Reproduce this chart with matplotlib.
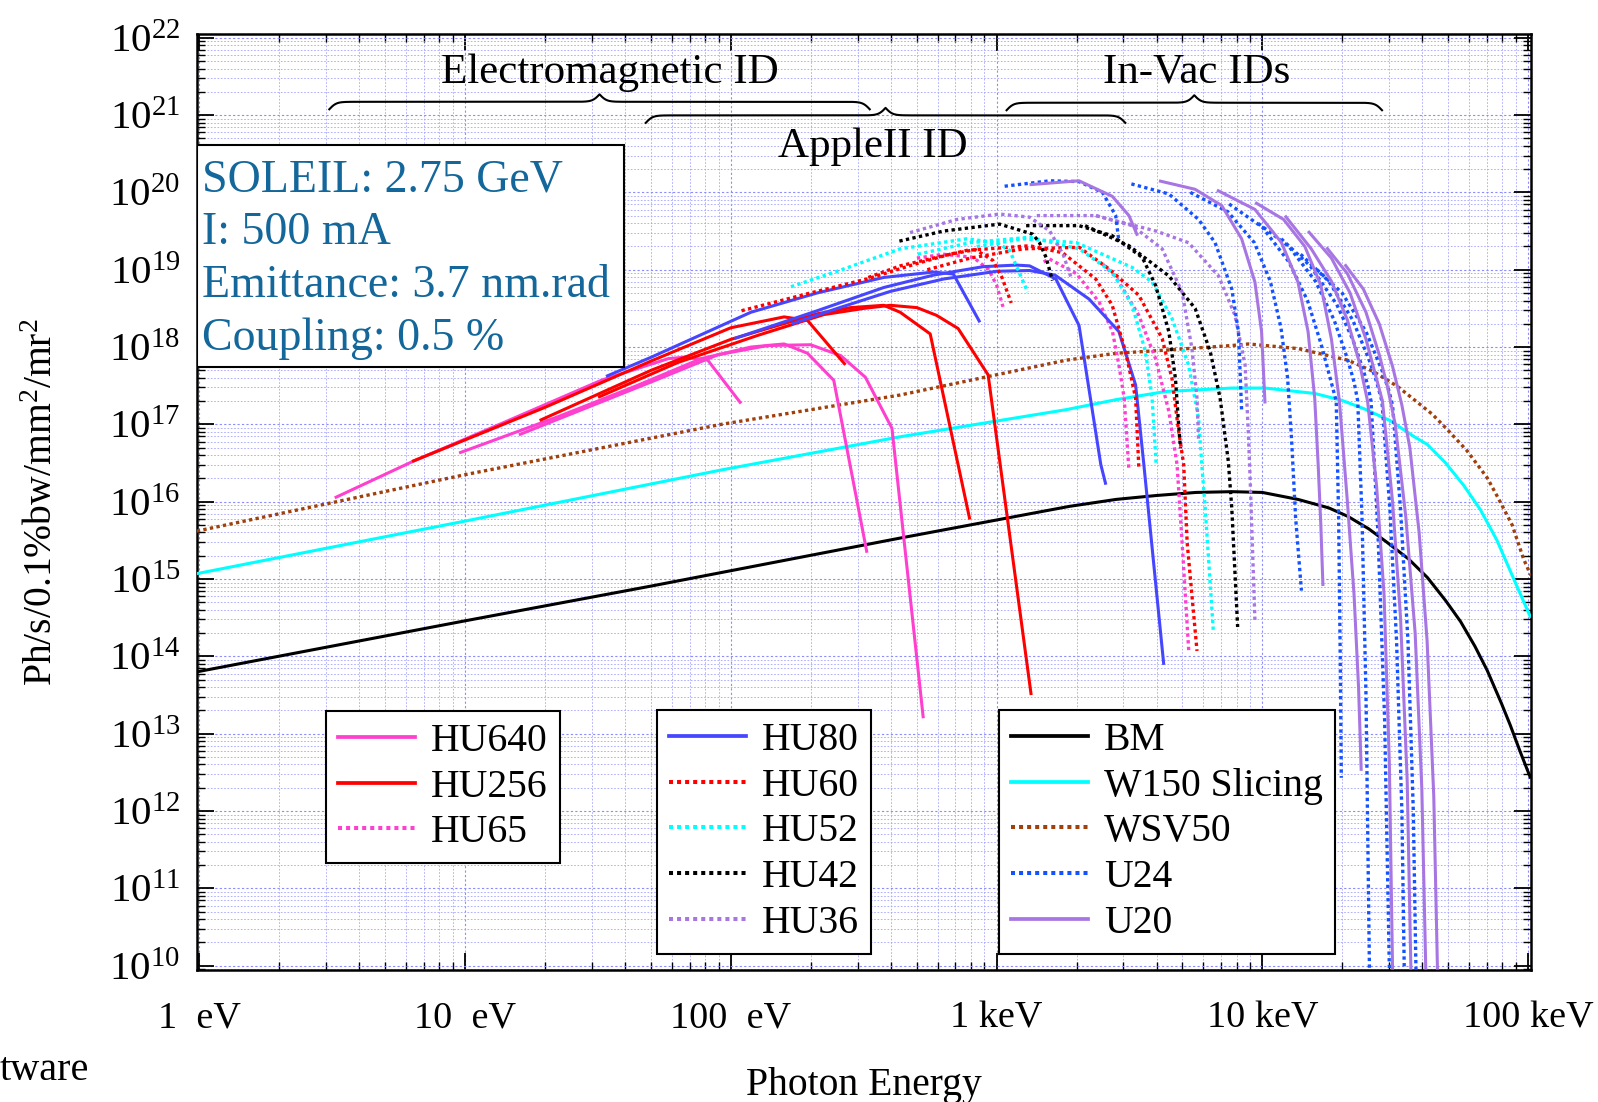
import numpy as np
import matplotlib.pyplot as plt
from matplotlib.lines import Line2D
from matplotlib.patches import Rectangle
from matplotlib.ticker import LogLocator, NullFormatter

plt.rcParams['font.family'] = ['Liberation Serif', 'DejaVu Serif']
plt.rcParams['mathtext.fontset'] = 'custom'
plt.rcParams['mathtext.rm'] = 'Liberation Serif'
plt.rcParams['mathtext.it'] = 'Liberation Serif:italic'
plt.rcParams['mathtext.bf'] = 'Liberation Serif:bold'

# values: log10(photon energy / eV), log10(brightness)
# one list per harmonic
hu640_E = [[0.509, 0.802, 1.139, 1.514, 1.764, 1.826, 1.913, 2.038],
           [0.977, 1.35, 1.638, 1.888, 2.075, 2.2, 2.288, 2.387, 2.512],
           [1.202, 1.701, 1.951, 2.138, 2.30, 2.413, 2.506, 2.606, 2.724]]
hu640_B = [[16.05, 16.52, 17.015, 17.573, 17.85, 17.87, 17.83, 17.27],
           [16.63, 17.1, 17.49, 17.85, 18.0, 18.04, 17.92, 17.57, 15.34],
           [16.865, 17.55, 17.9, 18.02, 18.03, 17.89, 17.61, 16.95, 13.2]]

hu256_E = [[0.80, 1.3, 1.7, 2.0, 2.2, 2.288, 2.431],
           [1.28, 1.7, 2.0, 2.325, 2.45, 2.575, 2.637, 2.75, 2.899],
           [1.50, 1.8, 2.1, 2.35, 2.5, 2.6, 2.7, 2.774, 2.855, 2.968, 3.13]]
hu256_B = [[16.52, 17.22, 17.82, 18.25, 18.39, 18.345, 17.77],
           [17.05, 17.7, 18.1, 18.43, 18.51, 18.54, 18.45, 18.17, 15.77],
           [17.35, 17.8, 18.15, 18.42, 18.5, 18.54, 18.51, 18.41, 18.24, 17.64, 13.5]]

hu65_E = [[2.70, 2.8, 2.912, 2.97, 3.0, 3.024],
          [3.177, 3.198, 3.3, 3.386, 3.436, 3.46, 3.48, 3.498],
          [3.40, 3.45, 3.535, 3.598, 3.648, 3.679, 3.698, 3.723]]
hu65_B = [[19.15, 19.2, 19.16, 19.0, 18.8, 18.52],
          [19.1, 19.14, 18.95, 18.58, 18.2, 17.77, 17.34, 16.4],
          [19.07, 18.9, 18.41, 17.85, 17.17, 16.48, 15.47, 14.07]]

hu80_E = [[1.53, 1.701, 2.075, 2.325, 2.575, 2.762, 2.837, 2.937],
          [2.013, 2.325, 2.575, 2.762, 2.95, 3.074, 3.124, 3.223, 3.31, 3.392, 3.411],
          [2.229, 2.4, 2.6, 2.8, 3.0, 3.124, 3.22, 3.348, 3.46, 3.523, 3.554, 3.629]]
hu80_B = [[17.62, 17.87, 18.45, 18.7, 18.9, 18.97, 18.945, 18.32],
          [18.11, 18.47, 18.77, 18.93, 19.04, 19.06, 19.05, 18.88, 18.28, 16.48, 16.22],
          [18.3, 18.5, 18.72, 18.88, 18.98, 18.99, 18.93, 18.62, 18.2, 17.51, 16.48, 13.89]]

hu60_E = [[2.04, 2.3, 2.512, 2.7, 2.824, 2.92, 2.986, 3.02, 3.055],
          [2.517, 2.637, 2.887, 3.124, 3.248, 3.373, 3.435, 3.485, 3.523, 3.535],
          [2.739, 2.9, 3.1, 3.311, 3.423, 3.535, 3.623, 3.66, 3.685, 3.704, 3.717, 3.754]]
hu60_B = [[18.47, 18.70, 18.88, 19.08, 19.2, 19.26, 19.12, 18.9, 18.57],
          [18.9, 19.05, 19.25, 19.31, 19.22, 18.88, 18.54, 17.94, 17.34, 16.45],
          [19.0, 19.15, 19.27, 19.29, 19.01, 18.67, 18.11, 17.59, 16.91, 16.48, 15.47, 14.07]]

hu52_E = [[2.226, 2.4, 2.637, 2.887, 3.0, 3.049, 3.117],
          [2.703, 2.9, 3.124, 3.31, 3.435, 3.51, 3.56, 3.585, 3.6],
          [2.925, 3.1, 3.3, 3.51, 3.585, 3.66, 3.722, 3.76, 3.772, 3.785, 3.816]]
hu52_B = [[18.78, 18.98, 19.27, 19.4, 19.35, 19.25, 18.71],
          [19.2, 19.35, 19.42, 19.27, 18.97, 18.54, 17.94, 17.34, 16.5],
          [19.3, 19.4, 19.35, 19.03, 18.84, 18.37, 17.77, 17.08, 16.48, 15.91, 14.3]]

hu42_E = [[2.634, 2.8, 3.011, 3.136, 3.161, 3.186, 3.21],
          [3.111, 3.31, 3.435, 3.548, 3.598, 3.648, 3.673, 3.685, 3.692],
          [3.333, 3.498, 3.648, 3.747, 3.804, 3.841, 3.872, 3.885, 3.907]]
hu42_B = [[19.37, 19.5, 19.59, 19.46, 19.35, 19.16, 18.86],
          [19.57, 19.57, 19.44, 19.16, 18.8, 18.2, 17.59, 16.99, 16.69],
          [19.57, 19.31, 18.92, 18.5, 17.94, 17.34, 16.52, 15.91, 14.38]]

hu36_E = [[2.674, 2.85, 3.011, 3.124, 3.2, 3.25, 3.28],
          [3.151, 3.373, 3.51, 3.623, 3.698, 3.735, 3.754, 3.76],
          [3.373, 3.6, 3.722, 3.835, 3.897, 3.935, 3.947, 3.954, 3.972]]
hu36_B = [[19.48, 19.65, 19.72, 19.68, 19.5, 19.2, 18.9],
          [19.70, 19.70, 19.57, 19.27, 18.71, 17.98, 17.34, 16.78],
          [19.70, 19.5, 19.35, 18.92, 18.41, 17.77, 16.91, 16.3, 14.47]]

u24_E = [[3.03, 3.2, 3.31, 3.398, 3.448, 3.46],
         [3.507, 3.648, 3.76, 3.822, 3.885, 3.91, 3.922],
         [3.729, 3.87, 3.97, 4.03, 4.07, 4.095, 4.11, 4.125, 4.147],
         [3.875, 4.0, 4.1, 4.17, 4.22, 4.255, 4.278, 4.287, 4.293, 4.297],
         [3.984, 4.1, 4.2, 4.27, 4.32, 4.345, 4.359, 4.375, 4.39, 4.403],
         [4.071, 4.18, 4.28, 4.34, 4.38, 4.397, 4.409, 4.435, 4.46, 4.478],
         [4.144, 4.25, 4.34, 4.4, 4.43, 4.45, 4.48, 4.505, 4.525, 4.534],
         [4.206, 4.3, 4.39, 4.45, 4.475, 4.49, 4.52, 4.548, 4.568, 4.578]]
u24_B = [[20.08, 20.15, 20.14, 20.0, 19.70, 19.37],
         [20.11, 19.98, 19.65, 19.35, 18.75, 18.2, 17.17],
         [20.0, 19.75, 19.35, 18.85, 18.25, 17.6, 16.8, 15.8, 14.85],
         [19.85, 19.55, 19.1, 18.6, 18.05, 17.6, 17.3, 15.8, 14.0, 12.43],
         [19.6, 19.3, 18.85, 18.35, 17.85, 17.55, 17.3, 15.8, 13.5, 9.95],
         [19.4, 19.05, 18.55, 18.1, 17.7, 17.5, 17.3, 15.6, 13.2, 9.95],
         [19.2, 18.85, 18.35, 17.85, 17.55, 17.3, 15.9, 14.2, 12.0, 9.95],
         [19.0, 18.7, 18.2, 17.7, 17.45, 17.25, 15.9, 14.2, 12.0, 9.95]]

u20_E = [[3.124, 3.31, 3.435, 3.498, 3.53],
         [3.611, 3.747, 3.847, 3.922, 3.972, 3.997, 4.01],
         [3.829, 3.972, 4.072, 4.134, 4.172, 4.197, 4.21, 4.22, 4.228],
         [3.973, 4.08, 4.16, 4.22, 4.26, 4.29, 4.32, 4.345, 4.362, 4.372],
         [4.085, 4.184, 4.26, 4.32, 4.365, 4.396, 4.43, 4.458, 4.478, 4.49],
         [4.172, 4.26, 4.33, 4.39, 4.425, 4.452, 4.49, 4.52, 4.545, 4.559],
         [4.241, 4.32, 4.39, 4.44, 4.47, 4.5, 4.54, 4.575, 4.60, 4.615],
         [4.31, 4.38, 4.44, 4.49, 4.525, 4.555, 4.59, 4.62, 4.645, 4.659]]
u20_B = [[20.10, 20.15, 19.95, 19.70, 19.44],
         [20.15, 20.04, 19.83, 19.4, 18.84, 18.2, 17.27],
         [20.03, 19.78, 19.35, 18.84, 18.2, 17.34, 16.48, 15.7, 14.91],
         [19.87, 19.65, 19.3, 18.8, 18.1, 17.3, 16.0, 14.8, 13.6, 12.52],
         [19.70, 19.27, 18.85, 18.35, 17.8, 17.3, 16.2, 14.8, 12.6, 9.95],
         [19.50, 19.15, 18.7, 18.1, 17.65, 17.3, 16.0, 14.5, 12.4, 9.95],
         [19.29, 18.95, 18.45, 17.9, 17.5, 17.0, 15.8, 14.3, 12.3, 9.95],
         [19.07, 18.75, 18.3, 17.75, 17.25, 16.7, 15.6, 14.2, 12.2, 9.95]]

bm_E = [-0.01, 1.0, 1.701, 2.637, 3.274, 3.45, 3.6, 3.75, 3.885, 4.0, 4.134, 4.25, 4.322,
        4.4, 4.471, 4.55, 4.621, 4.69, 4.746, 4.8, 4.846, 4.9, 4.933, 4.97, 5.01]
bm_B = [13.80, 14.46, 14.91, 15.53, 15.94, 16.03, 16.08, 16.12, 16.13, 16.12, 16.03, 15.92, 15.81,
        15.65, 15.47, 15.26, 15.02, 14.72, 14.45, 14.13, 13.82, 13.39, 13.11, 12.77, 12.42]

w150_E = [-0.01, 1.0, 1.963, 2.637, 3.261, 3.45, 3.635, 3.885, 4.01, 4.197, 4.3, 4.384, 4.48,
          4.572, 4.621, 4.69, 4.758, 4.82, 4.883, 4.95, 5.01]
w150_B = [15.07, 15.75, 16.41, 16.84, 17.19, 17.32, 17.425, 17.47, 17.47, 17.40, 17.31, 17.20, 17.05,
          16.84, 16.74, 16.5, 16.21, 15.9, 15.5, 14.97, 14.5]

wsv50_E = [-0.01, 1.0, 1.963, 2.637, 3.261, 3.45, 3.635, 3.885, 3.948, 4.135, 4.322, 4.42, 4.509,
           4.571, 4.64, 4.697, 4.77, 4.846, 4.884, 4.94, 4.983, 5.01]
wsv50_B = [15.62, 16.35, 17.0, 17.38, 17.83, 17.92, 17.96, 18.02, 18.04, 17.98, 17.83, 17.68, 17.49,
           17.32, 17.13, 16.93, 16.66, 16.31, 16.07, 15.7, 15.26, 15.05]

tick_E = [1, 10, 100, 1e3, 1e4, 1e5]
tick_E_labels = ['1  eV', '10  eV', '100  eV', '1 keV', '10 keV', '100 keV']
decades = list(range(10, 23))

PINK = '#ff40cf'
RED = '#ff0000'
BLUE = '#4646ff'
CYAN = '#00ffff'
PURPLE = '#a876e2'
BROWN = '#a0400c'
UBLUE = '#1452ff'
DOT = (0, (1, 1))
LW = 2.2
LWD = 2.4

fig = plt.figure(figsize=(15.98, 11.02), dpi=100)
ax = fig.add_axes([0.1233, 0.1198, 0.8348, 0.8494])
ax.set_xscale('log')
ax.set_yscale('log')


def lw_of(ls):
    return LW if ls == '-' else LWD


def draw(es, bs, color, ls):
    for e, b in zip(es, bs):
        ax.plot(10 ** np.array(e), 10 ** np.array(b), color=color, ls=ls, lw=lw_of(ls),
                solid_capstyle='butt', zorder=3)


draw([bm_E], [bm_B], 'black', '-')
draw([w150_E], [w150_B], CYAN, '-')
draw([wsv50_E], [wsv50_B], BROWN, DOT)
draw(hu640_E, hu640_B, PINK, '-')
draw(hu256_E, hu256_B, RED, '-')
draw(hu65_E, hu65_B, PINK, DOT)
draw(hu80_E, hu80_B, BLUE, '-')
draw(hu60_E, hu60_B, RED, DOT)
draw(hu52_E, hu52_B, CYAN, DOT)
draw(hu42_E, hu42_B, 'black', DOT)
draw(hu36_E, hu36_B, PURPLE, DOT)
draw(u24_E, u24_B, UBLUE, DOT)
draw(u20_E, u20_B, PURPLE, '-')

# axes
ax.set_xlim(0.979, 1.026e5)
ax.set_ylim(0.88e10, 1.12e22)
ax.set_xticks(tick_E)
ax.set_xticklabels(tick_E_labels)
ax.set_yticks([10.0 ** k for k in decades])
ax.set_yticklabels([r'$10^{%d}$' % k for k in decades])
ax.xaxis.set_minor_locator(LogLocator(base=10, subs=np.arange(2, 10), numticks=20))
ax.yaxis.set_minor_locator(LogLocator(base=10, subs=np.arange(2, 10), numticks=30))
ax.xaxis.set_minor_formatter(NullFormatter())
ax.yaxis.set_minor_formatter(NullFormatter())
ax.tick_params(which='both', direction='in', top=True, right=True)
ax.tick_params(which='major', length=12, width=1.3)
ax.tick_params(which='minor', length=6, width=1.0)
ax.tick_params(axis='x', which='major', pad=22, labelsize=27.5)
ax.tick_params(axis='y', which='major', pad=12, labelsize=29.5)
for s in ax.spines.values():
    s.set_linewidth(1.8)
ax.grid(which='major', color='#8c8cff', ls=(0, (2, 2)), lw=0.8)
ax.grid(which='minor', color='#a4a4ff', ls=(0, (2, 2)), lw=0.6)
ax.set_axisbelow(True)

ax.set_ylabel(r'Ph/s/0.1%bw/mm$^2$/mr$^2$', fontsize=28.5)
ax.yaxis.set_label_coords(-0.102, 0.5)
ax.set_xlabel('Photon Energy', fontsize=28.5)
ax.xaxis.set_label_coords(0.5, -0.104)
fig.text(0.0, 0.029, 'tware', fontsize=29, ha='left', va='center')

# info box
ax.add_patch(Rectangle((0.0, 0.644), 0.320, 0.237, transform=ax.transAxes,
                       fc='white', ec='black', lw=1.5, zorder=6))
ax.text(0.004, 0.759, 'SOLEIL: 2.75 GeV\nI: 500 mA\nEmittance: 3.7 nm.rad\nCoupling: 0.5 %',
        transform=ax.transAxes, ha='left', va='center', fontsize=33,
        color='#13679a', linespacing=1.31, zorder=7)

# braces over the energy ranges of each family
lx0, lx1 = np.log10(0.979), np.log10(1.026e5)


def brace(e0, e1, yf, h=0.016, beta=380.0):
    f0 = (np.log10(e0) - lx0) / (lx1 - lx0)
    f1 = (np.log10(e1) - lx0) / (lx1 - lx0)
    xm = 0.5 * (f0 + f1)
    xs = np.linspace(f0, f1, 601)
    left = 1 / (1 + np.exp(-beta * (xs - f0))) + 1 / (1 + np.exp(-beta * (xs - xm)))
    right = 1 / (1 + np.exp(-beta * (f1 - xs))) + 1 / (1 + np.exp(-beta * (xm - xs)))
    ys = np.where(xs <= xm, left, right)
    ax.plot(xs, yf + h * (ys - 1), transform=ax.transAxes, color='black', lw=1.5,
            zorder=4, clip_on=False)


brace(3.08, 333, 0.9275)
brace(47.8, 3050, 0.9130)
brace(1090, 28200, 0.9265)
ax.text(0.3096, 0.9590, 'Electromagnetic ID', transform=ax.transAxes, ha='center', va='center', fontsize=31)
ax.text(0.5067, 0.8800, 'AppleII ID', transform=ax.transAxes, ha='center', va='center', fontsize=31)
ax.text(0.7496, 0.9590, 'In-Vac IDs', transform=ax.transAxes, ha='center', va='center', fontsize=31)


# legends
def handle(color, ls):
    return Line2D([], [], color=color, ls=ls, lw=lw_of(ls) + 0.5)


leg_kw = dict(loc='upper left', fontsize=28.5, frameon=True, fancybox=False,
              edgecolor='black', framealpha=1, borderaxespad=0, handlelength=1.95,
              handletextpad=0.4, labelspacing=0.22, borderpad=0.3)
leg1 = ax.legend([handle(PINK, '-'), handle(RED, '-'), handle(PINK, DOT)],
                 ['HU640', 'HU256', 'HU65'], bbox_to_anchor=(0.0967, 0.2767), **leg_kw)
leg2 = ax.legend([handle(BLUE, '-'), handle(RED, DOT), handle(CYAN, DOT),
                  handle('black', DOT), handle(PURPLE, DOT)],
                 ['HU80', 'HU60', 'HU52', 'HU42', 'HU36'], bbox_to_anchor=(0.3448, 0.2778), **leg_kw)
leg3 = ax.legend([handle('black', '-'), handle(CYAN, '-'), handle(BROWN, DOT),
                  handle(UBLUE, DOT), handle(PURPLE, '-')],
                 ['BM', 'W150 Slicing', 'WSV50', 'U24', 'U20'], bbox_to_anchor=(0.6012, 0.2778), **leg_kw)
for lg in (leg1, leg2, leg3):
    lg.get_frame().set_linewidth(1.5)
    lg.set_zorder(8)
ax.add_artist(leg1)
ax.add_artist(leg2)

fig.savefig('out.png', dpi=100)
